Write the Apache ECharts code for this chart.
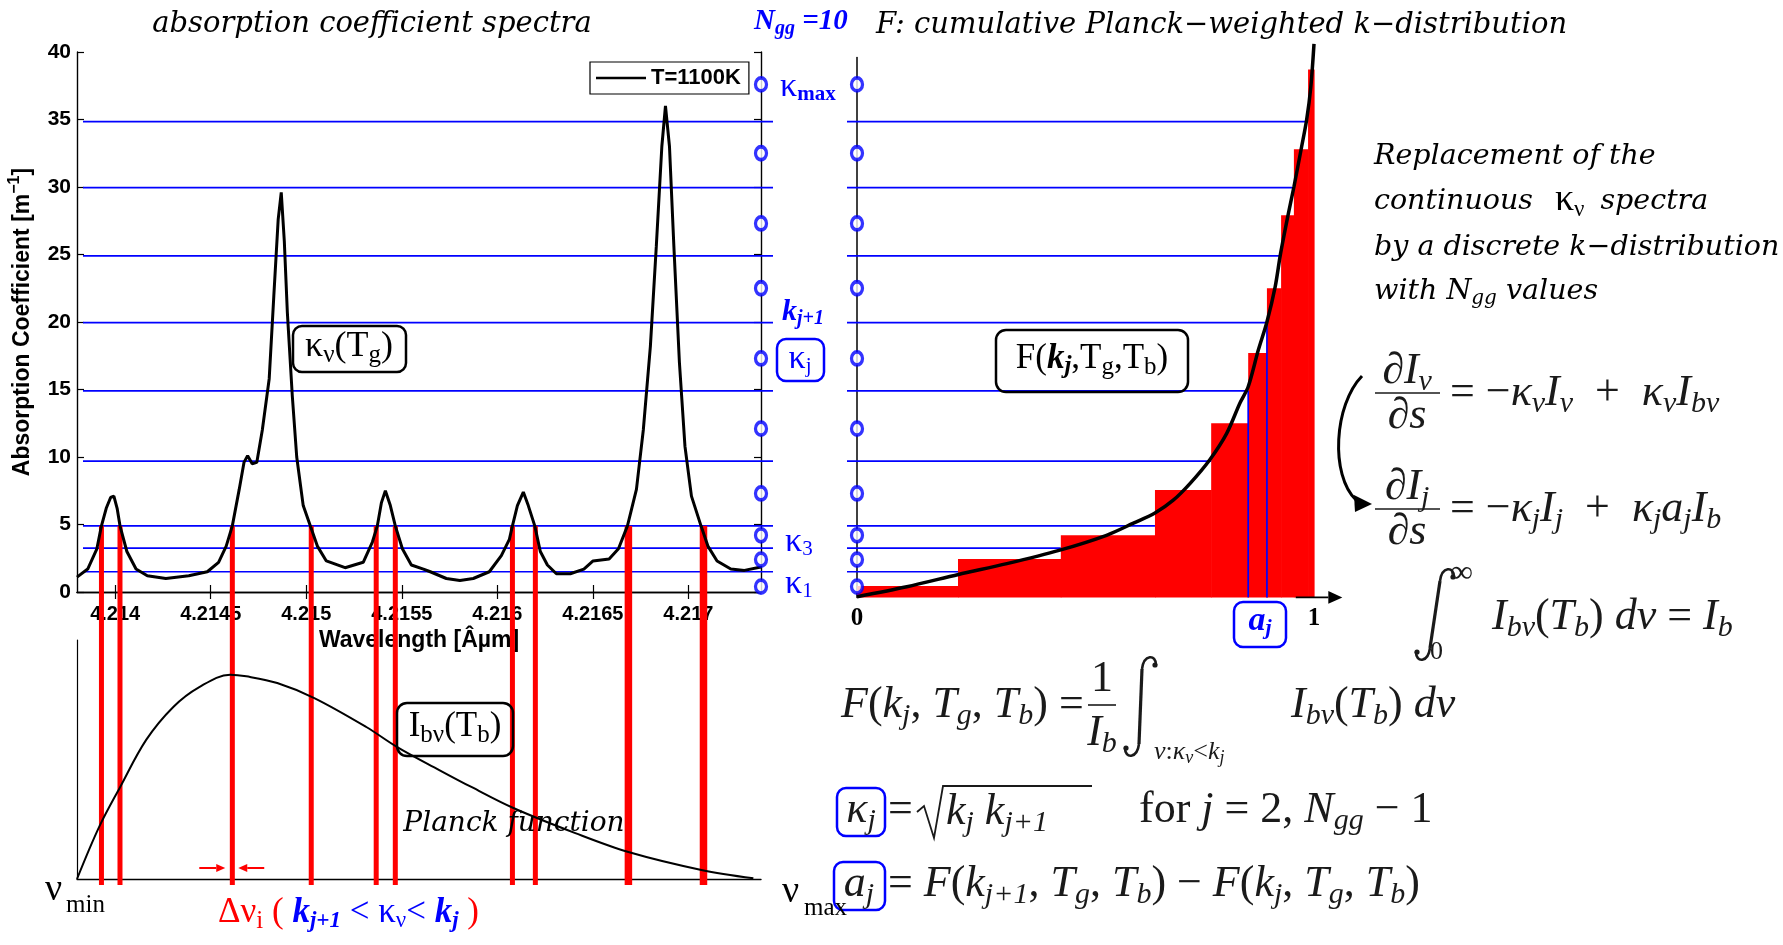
<!DOCTYPE html>
<html><head><meta charset="utf-8">
<script src="https://cdn.jsdelivr.net/npm/echarts@6/dist/echarts.min.js"></script>
<style>html,body{margin:0;padding:0;background:#fff}#c{width:1783px;height:945px}</style>
</head><body><div id="c"></div>
<script>
// ---------------- data ----------------
const wavelength = [4.21380,4.213856,4.213904,4.213928,4.213953,4.213976,4.213993,4.214010,4.214025,4.214061,
 4.214109,4.214168,4.214265,4.214385,4.214482,4.214541,4.214581,4.214613,4.214649,4.214674,
 4.214693,4.214717,4.214741,4.214770,4.214806,4.214830,4.214853,4.214869,4.214885,4.214901,
 4.214927,4.214950,4.214984,4.215021,4.215058,4.215105,4.215203,4.215298,4.215346,4.215372,
 4.215393,4.215414,4.215440,4.215466,4.215503,4.215550,4.215613,4.215649,4.215733,4.215804,
 4.215874,4.215958,4.216021,4.216063,4.216079,4.216105,4.216136,4.216162,4.216196,4.216225,
 4.216262,4.216309,4.216382,4.216453,4.216501,4.216585,4.216634,4.216681,4.216728,4.216764,
 4.216801,4.216832,4.216861,4.216880,4.216901,4.216924,4.216953,4.216982,4.217016,4.217066,
 4.217102,4.217150,4.217222,4.217293,4.21738];
const absorption = [1.1,1.7,3.2,4.9,6.2,7.0,7.1,6.2,4.9,3.0,
 1.7,1.2,1.0,1.2,1.5,2.2,3.4,4.9,7.6,9.6,
 10.1,9.5,9.6,12,15.8,21.9,27.6,29.6,26,20.7,
 14.5,10,6.4,4.9,3.4,2.3,1.8,2.2,3.7,4.9,
 6.6,7.5,6.4,4.9,3.2,2.0,1.7,1.5,1.0,0.86,
 1.0,1.5,2.7,3.9,4.9,6.4,7.4,6.4,4.9,3.0,
 2.0,1.35,1.35,1.7,2.3,2.45,3.2,4.9,7.6,12,
 18.2,25.6,33,36,33,25.6,17,10.8,7.1,4.9,
 3.4,2.3,1.7,1.6,1.85];
const xTickValues = [4.214,4.2145,4.215,4.2155,4.216,4.2165,4.217];
const xTickLabels = ['4.214','4.2145','4.215','4.2155','4.216','4.2165','4.217'];
const kLevels = [1.5,3.25,4.9,9.7,14.9,19.95,24.9,29.95,34.85];          // k_j (blue lines)
const kappa = [0.4,2.4,4.2,7.3,12.1,17.3,22.5,27.3,32.5,37.6];           // kappa_j (circles)
const redLineWavelengths = [4.213928,4.214025,4.214613,4.215026,4.215366,4.215466,4.216079,4.216199,4.216686,4.217079];
const planckWavelength = [4.21380,4.213916,4.214026,4.214162,4.214304,4.214440,4.214602,4.214686,4.214848,4.215042,
 4.215314,4.215476,4.215696,4.215864,4.216084,4.216408,4.216686,4.217068,4.217340];
const planckIntensity = [0,0.218,0.385,0.582,0.720,0.803,0.855,0.848,0.820,0.757,
 0.636,0.552,0.456,0.385,0.297,0.192,0.113,0.038,0.003];
const dnuArrows = [[4.21444,0.046,4.214576,0.046],[4.21478,0.046,4.214644,0.046]];
const stepF = [0,0.221,0.446,0.652,0.775,0.856,0.897,0.928,0.956,0.987,1.0];   // F(k_j)
const stepHeights = [0.45,2.45,4.2,7.55,12.5,17.7,22.5,27.9,32.8,38.7];
const curveF = [0,0.109,0.222,0.328,0.444,0.546,0.605,0.652,0.692,0.729,0.772,0.809,0.838,0.856,0.878,0.897,0.915,0.927,0.944,0.956,0.973,0.984,0.993,1.0];
const curveK = [-0.35,0.39,1.3,2.1,3.1,4.2,5.1,5.85,6.8,8.05,9.8,11.75,14.0,15.2,17.9,20.0,22.6,25.1,28.05,30.0,33.0,35.0,37.4,40.6];
const A_J = 4; // index of k_j used for the a_j illustration
const fTicks = [0,1];
const fTickLabels = ['0','1'];

// ---------------- layout / style ----------------
const X_MIN = 4.2138, X_MAX = 4.21738;
const G0 = {left:77, top:52, width:684, height:540};
const G1 = {left:77, top:640, width:684, height:239};
const G2 = {left:857, top:57.4, width:457, height:540};
const Y2_MIN = -0.4, Y2_MAX = 39.6;
const BLUE = '#0000ff', RED = '#ff0000', EQC = '#1a1a1a';
const SANS = 'Liberation Sans', SERIF = 'Liberation Serif', TSERIF = 'DejaVu Serif';

const chart = echarts.init(document.getElementById('c'), null, {renderer:'canvas'});

function arrowItem(color, lw, head) {
  return function (params, api) {
    const p1 = api.coord([api.value(0), api.value(1)]);
    const p2 = api.coord([api.value(2), api.value(3)]);
    const dx = p2[0]-p1[0], dy = p2[1]-p1[1], len = Math.hypot(dx,dy) || 1;
    const ux = dx/len, uy = dy/len;
    const bx = p2[0]-ux*head, by = p2[1]-uy*head;
    const nx = -uy*head*0.45, ny = ux*head*0.45;
    return {type:'group', children:[
      {type:'line', shape:{x1:p1[0],y1:p1[1],x2:bx,y2:by}, style:{stroke:color,lineWidth:lw}},
      {type:'polygon', shape:{points:[[p2[0],p2[1]],[bx+nx,by+ny],[bx-nx,by-ny]]}, style:{fill:color}}
    ]};
  };
}

// ---------------- annotation helpers ----------------
function txt(x, y, text, o) {
  const st = Object.assign({text, align:'left', verticalAlign:'middle', textAlign:'left', textVerticalAlign:'middle', fill:'#000'}, o || {});
  if (st.align !== 'left') st.textAlign = st.align;
  return {type:'text', x, y, z:100, silent:true, style:st};
}
function plain(x, y, text, size, color, extra) {
  return txt(x, y, text, Object.assign({fontFamily:SERIF, fontSize:size, fill:color||'#000'}, extra||{}));
}
function box(x, y, w, h, color, lw, r) {
  return {type:'rect', z:99, silent:true, shape:{x, y, width:w, height:h, r:r||8}, style:{fill:'transparent', stroke:color, lineWidth:lw||2.5}};
}
function seg(x1, y1, x2, y2, color, lw) {
  return {type:'line', z:99, silent:true, shape:{x1,y1,x2,y2}, style:{stroke:color||EQC, lineWidth:lw||1.6}};
}
function integral(xr, yt, xl, yb) {
  const st = {stroke:EQC, lineWidth:2.6, fill:null};
  return [
    {type:'bezierCurve', z:99, silent:true, shape:{x1:xr+4, y1:yt+8, cpx1:xr+4, cpy1:yt-3, cpx2:xr-8, cpy2:yt-3, x2:xr-10, y2:yt+12}, style:st},
    {type:'line', z:99, silent:true, shape:{x1:xr-10, y1:yt+12, x2:xl+10, y2:yb-12}, style:Object.assign({}, st, {lineWidth:3.2})},
    {type:'bezierCurve', z:99, silent:true, shape:{x1:xl+10, y1:yb-12, cpx1:xl+8, cpy1:yb+3, cpx2:xl-4, cpy2:yb+3, x2:xl-4, y2:yb-8}, style:st},
    {type:'circle', z:99, silent:true, shape:{cx:xr+3, cy:yt+8, r:2.6}, style:{fill:EQC}},
    {type:'circle', z:99, silent:true, shape:{cx:xl-3, cy:yb-8, r:2.6}, style:{fill:EQC}}
  ];
}
const S = 44, SS = 30;
const eqRich = {
  r:{fontFamily:SERIF, fontSize:S, fill:EQC},
  i:{fontFamily:SERIF, fontSize:S, fontStyle:'italic', fill:EQC},
  sr:{fontFamily:SERIF, fontSize:SS, fill:EQC, padding:[22,0,0,0]},
  si:{fontFamily:SERIF, fontSize:SS, fontStyle:'italic', fill:EQC, padding:[22,0,0,0]},
  tr:{fontFamily:SERIF, fontSize:26, fill:EQC},
  ti:{fontFamily:SERIF, fontSize:26, fontStyle:'italic', fill:EQC},
  tsi:{fontFamily:SERIF, fontSize:18, fontStyle:'italic', fill:EQC, padding:[12,0,0,0]}
};
function eq(x, y, text, o) { return txt(x, y, text, Object.assign({rich:eqRich}, o||{})); }
const symRich = (c, size, sub) => ({
  a:{fontFamily:SERIF, fontSize:size, fill:c},
  s:{fontFamily:SERIF, fontSize:sub, fill:c, padding:[Math.round(size*0.45),0,0,0]},
  b:{fontFamily:SERIF, fontSize:size, fontStyle:'italic', fontWeight:'bold', fill:c},
  bs:{fontFamily:SERIF, fontSize:sub, fontStyle:'italic', fontWeight:'bold', fill:c, padding:[Math.round(size*0.45),0,0,0]},
  sb:{fontFamily:SERIF, fontSize:sub, fontWeight:'bold', fill:c, padding:[Math.round(size*0.45),0,0,0]}
});
const ital = {fontFamily:TSERIF, fontStyle:'italic', fontSize:29, fill:'#000'};
const ital2 = {fontFamily:TSERIF, fontStyle:'italic', fontSize:28.5, fill:'#000'};

const graphics = [
  txt(372, 24, 'absorption coefficient spectra', Object.assign({}, ital, {align:'center'})),
  txt(754, 22, '{b|N}{bs|gg}{b| =10}', {rich:symRich(BLUE, 29, 20)}),
  txt(876, 25, 'F: cumulative Planck\u2212weighted k\u2212distribution', ital),
  // kappa labels
  txt(780, 87, '{a|\u03ba}{sb|max}', {rich:symRich(BLUE, 34, 21)}),
  txt(782, 312, '{b|k}{bs|j+1}', {rich:symRich(BLUE, 30, 20)}),
  box(777, 339, 47, 42, BLUE, 2.5, 9),
  txt(800, 359, '{a|\u03ba}{s|j}', {align:'center', rich:symRich(BLUE, 34, 21)}),
  txt(785, 542, '{a|\u03ba}{s|3}', {rich:symRich(BLUE, 34, 21)}),
  txt(785, 584, '{a|\u03ba}{s|1}', {rich:symRich(BLUE, 34, 21)}),
  // boxed curve labels
  box(293, 326, 113, 46, '#000', 2.5, 9),
  txt(349, 347, '{a|\u03ba}{s|\u03bd}{a|(T}{s|g}{a|)}', {align:'center', rich:symRich('#000', 36, 25)}),
  box(996, 330, 192, 62, '#000', 2.5, 10),
  txt(1092, 359, '{a|F(}{b|k}{bs|j}{a|,T}{s|g}{a|,T}{s|b}{a|)}', {align:'center', rich:symRich('#000', 35, 25)}),
  box(1234, 602, 52, 45, BLUE, 2.5, 9),
  txt(1260, 621, '{b|a}{bs|j}', {align:'center', rich:symRich(BLUE, 34, 22)}),
  box(397, 703, 116, 53, '#000', 2.5, 10),
  txt(455, 727, '{a|I}{s|b\u03bd}{a|(T}{s|b}{a|)}', {align:'center', rich:symRich('#000', 35, 25)}),
  txt(514, 824, 'Planck function', Object.assign({}, ital, {align:'center', fontSize:28})),
  plain(45, 890, '\u03bd', 38),
  plain(66, 905, 'min', 25),
  plain(782, 892, '\u03bd', 38),
  plain(804, 908, 'max', 25),
  txt(218, 913, '{r|\u0394\u03bd}{rs|i}{r| ( }{b|k}{bs|j+1}{u| < \u03ba}{us|\u03bd}{u|< }{b|k}{bs|j}{r| )}', {rich:Object.assign(symRich(BLUE, 35, 23), {
    r:{fontFamily:SERIF, fontSize:35, fill:RED}, rs:{fontFamily:SERIF, fontSize:25, fill:RED, padding:[16,0,0,0]},
    u:{fontFamily:SERIF, fontSize:35, fill:BLUE}, us:{fontFamily:SERIF, fontSize:23, fill:BLUE, padding:[16,0,0,0]}})}),
  // right-hand explanatory text
  txt(1374, 157, 'Replacement of the', ital2),
  txt(1374, 202, '{t|continuous}{k|\u03ba}{s|\u03bd}{t|spectra}', {rich:{
    t:ital2,
    k:{fontFamily:SERIF, fontSize:38, fill:'#000', padding:[0,0,4,22]},
    s:{fontFamily:SERIF, fontSize:23, fill:'#000', padding:[16,16,0,0]}}}),
  txt(1374, 248, 'by a discrete k\u2212distribution', ital2),
  txt(1374, 292, '{t|with }{t|N}{s|gg}{t| values}', {rich:{t:ital2, s:Object.assign({}, ital2, {fontSize:20, padding:[14,0,0,0]})}}),
  // equation 1
  eq(1407, 371, '{r|\u2202}{i|I}{si|\u03bd}', {align:'center'}),
  seg(1375, 393, 1440, 393),
  eq(1407, 416, '{r|\u2202}{i|s}', {align:'center'}),
  eq(1450, 393, '{r|= \u2212}{i|\u03ba}{si|\u03bd}{i|I}{si|\u03bd}{r|  +  }{i|\u03ba}{si|\u03bd}{i|I}{si|b\u03bd}'),
  // equation 2
  eq(1407, 487, '{r|\u2202}{i|I}{si|j}', {align:'center'}),
  seg(1375, 509, 1440, 509),
  eq(1407, 532, '{r|\u2202}{i|s}', {align:'center'}),
  eq(1450, 509, '{r|= \u2212}{i|\u03ba}{si|j}{i|I}{si|j}{r|  +  }{i|\u03ba}{si|j}{i|a}{si|j}{i|I}{si|b}'),
  // equation 3
  ...integral(1450, 569, 1420, 660),
  txt(1450, 574, '\u221e', {align:'left', fontFamily:SERIF, fontSize:32, fill:EQC}),
  txt(1430, 652, '0', {align:'left', fontFamily:SERIF, fontSize:26, fill:EQC}),
  eq(1492, 617, '{i|I}{si|b\u03bd}{r|(}{i|T}{si|b}{r|) }{i|d\u03bd}{r| = }{i|I}{si|b}'),
  // equation 4
  eq(841, 705, '{i|F}{r|(}{i|k}{si|j}{r|, }{i|T}{si|g}{r|, }{i|T}{si|b}{r|) =}'),
  eq(1102, 679, '{r|1}', {align:'center'}),
  seg(1088, 705, 1116, 705),
  eq(1102, 733, '{i|I}{si|b}', {align:'center'}),
  ...integral(1152, 657, 1129, 756),
  eq(1154, 752, '{ti|\u03bd}{tr|:}{ti|\u03ba}{tsi|\u03bd}{tr|<}{ti|k}{tsi|j}'),
  eq(1291, 705, '{i|I}{si|b\u03bd}{r|(}{i|T}{si|b}{r|) }{i|d\u03bd}'),
  // equation 5
  box(837, 788, 48, 48, BLUE, 2.5, 9),
  eq(861, 810, '{i|\u03ba}{si|j}', {align:'center'}),
  eq(888, 810, '{r|=}'),
  {type:'polyline', z:99, silent:true, shape:{points:[[917,812],[924,806],[934,838],[943,786],[1092,786]]}, style:{stroke:EQC, lineWidth:1.8, fill:null}},
  eq(946, 812, '{i|k}{si|j}{r| }{i|k}{si|j+1}'),
  eq(1139, 810, '{r|for }{i|j}{r| = 2, }{i|N}{si|gg}{r| \u2212 1}'),
  // equation 6
  box(834, 862, 51, 48, BLUE, 2.5, 9),
  eq(859, 884, '{i|a}{si|j}', {align:'center'}),
  eq(888, 884, '{r|= }{i|F}{r|(}{i|k}{si|j+1}{r|, }{i|T}{si|g}{r|, }{i|T}{si|b}{r|) \u2212 }{i|F}{r|(}{i|k}{si|j}{r|, }{i|T}{si|g}{r|, }{i|T}{si|b}{r|)}'),
  // curved arrow between the two transport equations
  {type:'bezierCurve', z:99, silent:true, shape:{x1:1362,y1:376,cpx1:1334,cpy1:405,cpx2:1330,cpy2:475,x2:1356,y2:500}, style:{stroke:'#000', lineWidth:3, fill:null}},
  {type:'polygon', z:99, silent:true, shape:{points:[[1372,504],[1354,495],[1355,512]]}, style:{fill:'#000'}}
];

const axisLineBlack = {show:true, lineStyle:{color:'#000', width:1.4}};
const labelFont = {fontFamily:SANS, fontWeight:'bold', fontSize:20, color:'#000'};
const circleStyle = {color:'#fff', borderColor:BLUE, borderWidth:3.5};

const option = {
  animation:false,
  backgroundColor:'#fff',
  legend:{data:[{name:'T=1100K', icon:'rect'}], left:590, top:62, itemWidth:50, itemHeight:2.5, itemGap:0,
    padding:[5,8,5,6], borderColor:'#000', borderWidth:1.2, backgroundColor:'#fff', selectedMode:false,
    textStyle:{fontFamily:SANS, fontSize:22, fontWeight:'bold', color:'#000'}},
  grid:[
    Object.assign({outerBoundsMode:'none', containLabel:false}, G0),
    Object.assign({outerBoundsMode:'none', containLabel:false}, G1),
    Object.assign({outerBoundsMode:'none', containLabel:false}, G2)
  ],
  xAxis:[
    {gridIndex:0, type:'value', min:X_MIN, max:X_MAX, position:'bottom', axisLine:axisLineBlack,
      axisTick:{show:true, inside:true, length:7, customValues:xTickValues, lineStyle:{color:'#000', width:1.2}},
      axisLabel:Object.assign({customValues:xTickValues, margin:12, formatter:v=>{const i=xTickValues.findIndex(t=>Math.abs(t-v)<1e-7);return i<0?'':xTickLabels[i];}}, labelFont),
      splitLine:{show:false}, name:'Wavelength [\u00c2\u00b5m]', nameLocation:'middle', nameGap:34,
      nameTextStyle:{fontFamily:SANS, fontWeight:'bold', fontSize:23, color:'#000'}},
    {gridIndex:0, type:'value', min:X_MIN, max:X_MAX, position:'top', axisLine:axisLineBlack,
      axisTick:{show:true, inside:true, length:7, customValues:xTickValues, lineStyle:{color:'#000', width:1.2}},
      axisLabel:{show:false}, splitLine:{show:false}},
    {gridIndex:1, type:'value', min:X_MIN, max:X_MAX, axisLine:axisLineBlack, axisTick:{show:false}, axisLabel:{show:false}, splitLine:{show:false}},
    {gridIndex:2, type:'value', min:0, max:1, axisLine:{show:false}, axisTick:{show:false},
      axisLabel:{customValues:fTicks, margin:9, formatter:v=>{const i=fTicks.indexOf(v);return i<0?'':fTickLabels[i];}, fontFamily:SERIF, fontWeight:'bold', fontSize:25, color:'#000'},
      splitLine:{show:false}}
  ],
  yAxis:[
    {gridIndex:0, type:'value', min:0, max:40, interval:5, position:'left', axisLine:axisLineBlack,
      axisTick:{show:true, inside:true, length:7, lineStyle:{color:'#000', width:1.2}},
      axisLabel:Object.assign({margin:6}, labelFont, {fontSize:21}), splitLine:{show:false},
      name:'Absorption Coefficient [m{sup|\u22121}]', nameLocation:'middle', nameGap:38,
      nameTextStyle:{fontFamily:SANS, fontWeight:'bold', fontSize:23, color:'#000', rich:{sup:{fontFamily:SANS, fontWeight:'bold', fontSize:16, color:'#000', padding:[0,0,16,0]}}}},
    {gridIndex:0, type:'value', min:0, max:40, interval:5, position:'right', axisLine:axisLineBlack,
      axisTick:{show:true, inside:true, length:7, lineStyle:{color:'#000', width:1.2}}, axisLabel:{show:false}, splitLine:{show:false}},
    {gridIndex:1, type:'value', min:0, max:1, axisLine:{show:true, lineStyle:{color:'#000', width:1.2}}, axisTick:{show:false}, axisLabel:{show:false}, splitLine:{show:false}},
    {gridIndex:2, type:'value', min:Y2_MIN, max:Y2_MAX, axisLine:{show:true, lineStyle:{color:'#000', width:1.5}}, axisTick:{show:false}, axisLabel:{show:false}, splitLine:{show:false}}
  ],
  series:[
    // --- left: blue k_j levels
    {type:'custom', xAxisIndex:0, yAxisIndex:0, clip:false, z:2, silent:true,
      data:kLevels.map(k=>[k]),
      renderItem:(params, api)=>{const cs=params.coordSys;const y=api.coord([X_MIN, api.value(0)])[1];
        return {type:'line', shape:{x1:cs.x+6, y1:y, x2:cs.x+cs.width+12, y2:y}, style:{stroke:BLUE, lineWidth:1.7}};}},
    // --- left: red segments below k level
    {type:'custom', xAxisIndex:0, yAxisIndex:0, clip:false, z:4, silent:true,
      data:redLineWavelengths.map(x=>[x]),
      renderItem:(params, api)=>{const x=api.value(0);const t=api.coord([x, kLevels[2]]);const b=api.coord([x,0]);
        const w=params.dataIndex>=8?7.5:5;
        return {type:'rect', shape:{x:t[0]-w/2, y:t[1], width:w, height:b[1]-t[1]}, style:{fill:RED}};}},
    // --- left: spectrum
    {type:'line', name:'T=1100K', xAxisIndex:0, yAxisIndex:0, z:5, symbol:'none', color:'#000',
      lineStyle:{color:'#000', width:3}, data:wavelength.map((w,i)=>[w, absorption[i]])},
    // --- left: kappa circles on right edge
    {type:'scatter', xAxisIndex:0, yAxisIndex:0, clip:false, z:8, symbol:'circle', symbolSize:[11,13],
      itemStyle:circleStyle, data:kappa.map(k=>[X_MAX,k])},
    // --- Planck function
    {type:'line', xAxisIndex:2, yAxisIndex:2, z:5, symbol:'none', smooth:0.35, lineStyle:{color:'#000', width:2},
      data:planckWavelength.map((w,i)=>[w, planckIntensity[i]])},
    // --- red lines through the Planck panel
    {type:'custom', xAxisIndex:2, yAxisIndex:2, clip:false, z:4, silent:true,
      data:redLineWavelengths.map(x=>[x]),
      renderItem:(params, api)=>{const x=api.value(0);const b=api.coord([x,0]);const topPx=G0.top+G0.height;
        const w=params.dataIndex>=8?7.5:5;
        return {type:'rect', shape:{x:b[0]-w/2, y:topPx, width:w, height:b[1]+6-topPx}, style:{fill:RED}};}},
    // --- delta nu arrows
    {type:'custom', xAxisIndex:2, yAxisIndex:2, clip:false, z:6, silent:true, data:dnuArrows,
      encode:{x:[0,2], y:[1,3]}, renderItem:arrowItem(RED, 2, 9)},
    // --- right: k-distribution steps
    {type:'custom', xAxisIndex:3, yAxisIndex:3, clip:false, z:1, silent:true,
      data:stepHeights.map((h,i)=>[stepF[i], stepF[i+1], h]),
      renderItem:(params, api)=>{const p0=api.coord([api.value(0), api.value(2)]);const p1=api.coord([api.value(1), Y2_MIN]);
        return {type:'rect', shape:{x:p0[0], y:p0[1], width:p1[0]-p0[0]+0.6, height:p1[1]-p0[1]}, style:{fill:RED}};}},
    // --- right: blue k_j levels up to F(k_j)
    {type:'custom', xAxisIndex:3, yAxisIndex:3, clip:false, z:2, silent:true,
      data:kLevels.map((k,i)=>[stepF[i+1], k]),
      renderItem:(params, api)=>{const cs=params.coordSys;const p=api.coord([api.value(0), api.value(1)]);
        return {type:'line', shape:{x1:cs.x-10, y1:p[1], x2:p[0], y2:p[1]}, style:{stroke:BLUE, lineWidth:1.7}};}},
    // --- right: a_j vertical lines
    {type:'custom', xAxisIndex:3, yAxisIndex:3, clip:false, z:3, silent:true,
      data:[[stepF[A_J+1], kLevels[A_J]], [stepF[A_J+2], kLevels[A_J+1]]],
      renderItem:(params, api)=>{const t=api.coord([api.value(0), api.value(1)]);const b=api.coord([api.value(0), Y2_MIN]);
        return {type:'line', shape:{x1:t[0], y1:t[1], x2:b[0], y2:b[1]}, style:{stroke:BLUE, lineWidth:1.7}};}},
    // --- right: cumulative curve
    {type:'line', xAxisIndex:3, yAxisIndex:3, clip:false, z:5, symbol:'none', smooth:0.3,
      lineStyle:{color:'#000', width:3.5}, data:curveF.map((f,i)=>[f, curveK[i]])},
    // --- right: circles
    {type:'scatter', xAxisIndex:3, yAxisIndex:3, clip:false, z:8, symbol:'circle', symbolSize:[11,13],
      itemStyle:circleStyle, data:kappa.map(k=>[0,k])},
    // --- right: axis arrow
    {type:'custom', xAxisIndex:3, yAxisIndex:3, clip:false, z:6, silent:true, data:[[0.96, Y2_MIN, 1.062, Y2_MIN]],
      encode:{x:[0,2], y:[1,3]}, renderItem:arrowItem('#000', 1.6, 14)}
  ],
  graphic:{elements:graphics}
};
chart.setOption(option);
</script></body></html>
